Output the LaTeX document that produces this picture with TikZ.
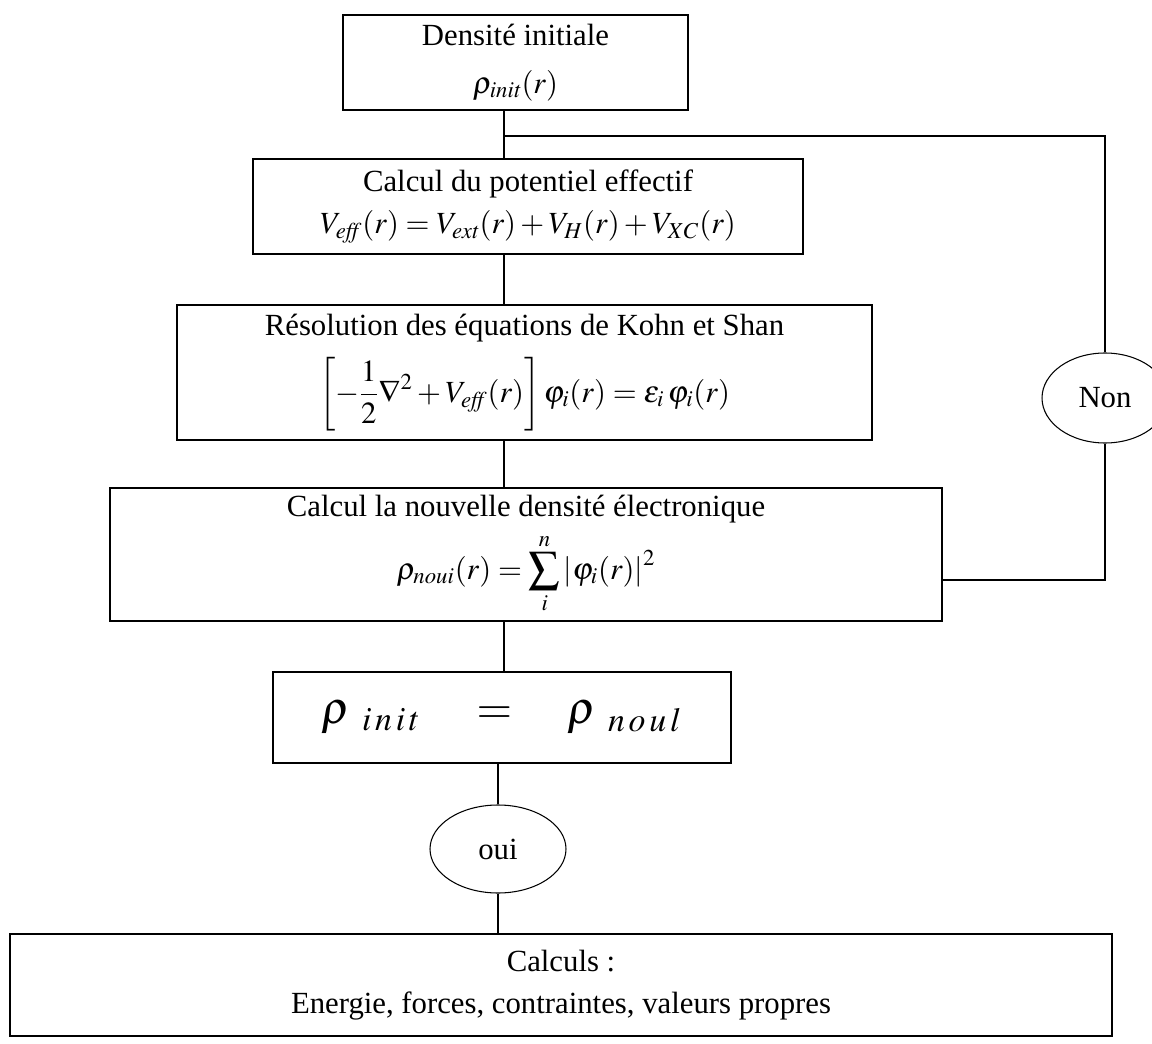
\documentclass[tikz,border=0pt]{standalone}
\usepackage{mathptmx}
\usepackage{fontspec}
\setmainfont{Liberation Serif}
\usetikzlibrary{shapes}

\begin{document}
\begin{tikzpicture}[-,semithick,font=\fontsize{17.5}{22}\selectfont,
    stepbox/.style={shape=rectangle,draw=black,align=center,inner sep=0pt},
    answer/.style={shape=ellipse,draw=black,inner sep=0pt}]
            \useasboundingbox (0,0) rectangle (23.04,-20.88);
            \coordinate (spine) at (10.08,0);
            \node[stepbox,minimum width=6.9cm,minimum height=1.9cm](init)at(10.31, -1.25){Densité initiale\\[5pt]$\rho_{\mathit{init}}(r)$};
            \node[stepbox,minimum width=11cm,minimum height=1.9cm](pot)at(10.56, -4.13){Calcul du potentiel effectif\\[2pt]$V_{\mathit{eff}}(r)=V_{\mathit{ext}}(r)+V_{H}(r)+V_{XC}(r)$};
            \node[stepbox,minimum width=13.9cm,minimum height=2.7cm](ks)at(10.49, -7.45){Résolution des équations de Kohn et Shan\\[8pt]$\displaystyle\left[-\frac{1}{2}\nabla^{2}+V_{\mathit{eff}}(r)\right]\varphi_{i}(r)=\varepsilon_{i}\,\varphi_{i}(r)$};
            \node[stepbox,minimum width=16.64cm,minimum height=2.66cm](newdens)at(10.52, -11.09){Calcul la nouvelle densité électronique\\[5pt]$\displaystyle\rho_{\mathit{noui}}(r)=\sum\limits_{i}^{n}\left|\varphi_{i}(r)\right|^{2}$};
            \node[stepbox,minimum width=9.16cm,minimum height=1.82cm,font=\fontsize{26}{30}\selectfont](conv)at(10.04, -14.35){$\rho_{\;\;i\,n\,i\,t}\quad=\quad\rho_{\;\;n\,o\,u\,l}$};
            \node[answer,minimum width=2.72cm,minimum height=1.76cm](yes)at(9.96, -16.98){oui};
            \node[answer,minimum width=2.52cm,minimum height=1.8cm](no)at(22.1, -7.96){Non};
            \node[stepbox,minimum width=22.04cm,minimum height=2.04cm](calc)at(11.22, -19.7){Calculs :\\[2pt]Energie, forces, contraintes, valeurs propres};
            \coordinate (fork) at (10.08, -2.72);
            \coordinate (back) at (22.1, -11.6);
            \draw (init.south -| spine) -- (pot.north -| spine)
            (fork) -- (fork -| no) -- (no.north)
            (pot.south -| spine) -- (ks.north -| spine)
            (ks.south -| spine) -- (newdens.north -| spine)
            (no.south) -- (back) -- (back -| newdens.east)
            (newdens.south -| spine) -- (conv.north -| spine)
            (conv.south -| yes) -- (yes.north)
            (yes.south) -- (calc.north -| yes);
        \end{tikzpicture}
\end{document}
